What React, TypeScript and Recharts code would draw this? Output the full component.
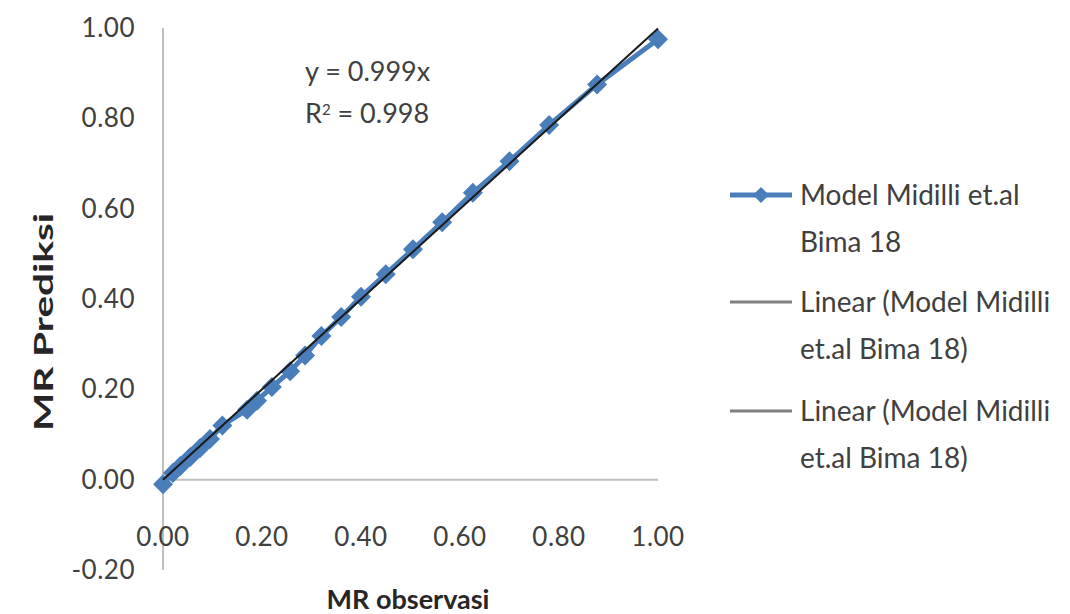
import React from 'react'
import {
  ScatterChart,
  Scatter,
  XAxis,
  YAxis,
  ReferenceLine,
} from 'recharts'

// MR observasi vs MR prediksi (Midilli, Bima 18)
const mrObservasi = [
  0.0, 0.02, 0.035, 0.055, 0.075, 0.095, 0.12, 0.17, 0.19, 0.22, 0.257, 0.287,
  0.32, 0.36, 0.4, 0.45, 0.505, 0.564, 0.626, 0.7, 0.78, 0.877, 1.0,
]
const mrPrediksi = [
  -0.01, 0.015, 0.03, 0.05, 0.07, 0.09, 0.12, 0.155, 0.175, 0.205, 0.24, 0.275,
  0.318, 0.36, 0.405, 0.455, 0.51, 0.57, 0.635, 0.705, 0.785, 0.875, 0.975,
]

// trendline y = 0.999x, endpoints
const trendX = [0, 1]
const trendY = [0, 0.999]

const xTicks = [0, 0.2, 0.4, 0.6, 0.8, 1.0]
const yTicks = [-0.2, 0, 0.2, 0.4, 0.6, 0.8, 1.0]

const modelData = mrObservasi.map((x, i) => ({ x, y: mrPrediksi[i] }))
const trendData = trendX.map((x, i) => ({ x, y: trendY[i] }))

const FONT = 'Lato, "Open Sans", sans-serif'
const BLUE = '#4a7ebb'

function Diamond(props: any) {
  const { cx, cy } = props
  if (cx == null || cy == null) return null
  const r = 10
  return (
    <polygon
      points={`${cx},${cy - r} ${cx + r},${cy} ${cx},${cy + r} ${cx - r},${cy}`}
      fill={BLUE}
    />
  )
}

function NoDot() {
  return <g />
}

function XTick({ x, y, payload }: any) {
  return (
    <text x={x} y={y - 35} dy="0.35em" textAnchor="middle" fontSize={26} letterSpacing={0.5} fill="#404040" fontFamily={FONT}>
      {payload.value.toFixed(2)}
    </text>
  )
}

function YTick({ x, y, payload }: any) {
  return (
    <text x={x} y={y} dy="0.35em" textAnchor="end" fontSize={26} letterSpacing={0.5} fill="#404040" fontFamily={FONT}>
      {payload.value.toFixed(2)}
    </text>
  )
}

function LegendBox() {
  const item = (lines: string[], top: number, marker: boolean, color: string, w: number) => (
    <div style={{ position: 'absolute', left: 0, top, width: 340 }}>
      <svg width={72} height={20} style={{ position: 'absolute', left: 0, top: -10 }}>
        <line x1={4} y1={10} x2={66} y2={10} stroke={color} strokeWidth={w} />
        {marker && <polygon points="35,2 43,10 35,18 27,10" fill={BLUE} />}
      </svg>
      <div style={{ position: 'absolute', left: 74, top: -24, fontSize: 28, lineHeight: '47px', color: '#404040', fontFamily: FONT, whiteSpace: 'nowrap' }}>
        {lines.map((l) => (
          <div key={l}>{l}</div>
        ))}
      </div>
    </div>
  )
  return (
    <div style={{ position: 'absolute', left: 726, top: 0, width: 344, height: 614 }}>
      {item(['Model Midilli et.al', 'Bima 18'], 195, true, BLUE, 5)}
      {item(['Linear (Model Midilli', 'et.al Bima 18)'], 302, false, '#808080', 3)}
      {item(['Linear (Model Midilli', 'et.al Bima 18)'], 411, false, '#808080', 3)}
    </div>
  )
}

export default function App() {
  return (
    <div style={{ position: 'absolute', left: 0, top: 0, width: 1070, height: 614, background: '#fff', fontFamily: FONT }}>
      <ScatterChart width={1070} height={614} margin={{ top: 28, right: 412, bottom: 0, left: 0 }}>
        <XAxis
          type="number"
          dataKey="x"
          domain={[0, 1]}
          ticks={xTicks}
          height={44}
          axisLine={false}
          tickLine={false}
          tickSize={0}
          tick={<XTick />}
          interval={0}
        />
        <YAxis
          type="number"
          dataKey="y"
          domain={[-0.2, 1]}
          ticks={yTicks}
          width={163}
          axisLine={{ stroke: '#bfbfbf', strokeWidth: 2 }}
          tickLine={false}
          tickSize={0}
          tickMargin={28}
          tick={<YTick />}
          interval={0}
        />
        <ReferenceLine y={0} stroke="#bfbfbf" strokeWidth={2} />
        <Scatter
          name="Model Midilli et.al Bima 18"
          data={modelData}
          line={{ stroke: BLUE, strokeWidth: 5 }}
          shape={<Diamond />}
          isAnimationActive={false}
        />
        <Scatter
          name="Linear (Model Midilli et.al Bima 18)"
          data={trendData}
          line={{ stroke: '#1a1a1a', strokeWidth: 2 }}
          shape={<NoDot />}
          isAnimationActive={false}
        />
      </ScatterChart>
      <LegendBox />
      <div style={{ position: 'absolute', left: 305, top: 50, fontSize: 27, lineHeight: '42px', color: '#404040', fontFamily: FONT }}>
        <div>y = 0.999x</div>
        <div>
          R<sup style={{ fontSize: 15, verticalAlign: 'top', position: 'relative', top: -4 }}>2</sup> = 0.998
        </div>
      </div>
      <div style={{ position: 'absolute', left: 252, top: 582, width: 312, textAlign: 'center', fontSize: 27, fontWeight: 700, color: '#262626', fontFamily: FONT }}>
        MR observasi
      </div>
      <div
        style={{
          position: 'absolute',
          left: 42,
          top: 322,
          transform: 'translate(-50%, -50%) rotate(-90deg) scaleX(1.5)',
          whiteSpace: 'nowrap',
          fontSize: 27,
          fontWeight: 700,
          color: '#262626',
          fontFamily: FONT,
        }}
      >
        MR Prediksi
      </div>
    </div>
  )
}
